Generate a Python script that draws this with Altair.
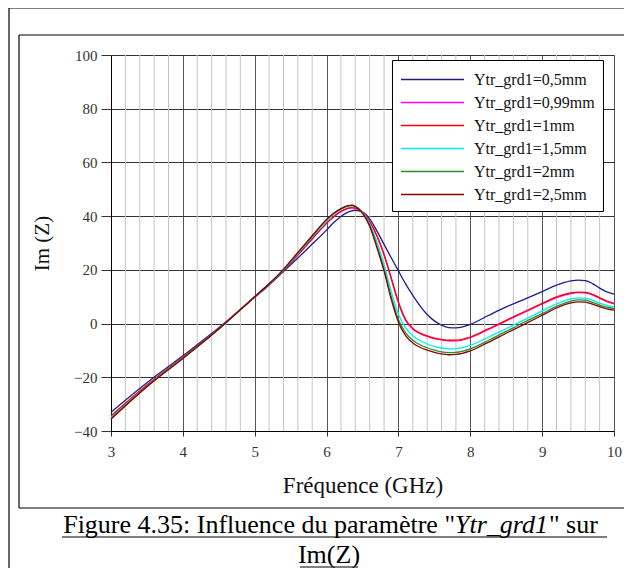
import altair as alt
import pandas as pd

freq = [3.0, 3.5, 4.0, 4.5, 5.0, 5.2, 5.4, 5.6, 5.8, 6.0, 6.1, 6.2, 6.3, 6.35, 6.4, 6.5,
        6.6, 6.7, 6.8, 6.9, 7.0, 7.1, 7.2, 7.3, 7.4, 7.5, 7.6, 7.7, 7.8, 8.0, 8.25, 8.5,
        8.75, 9.0, 9.2, 9.4, 9.5, 9.6, 9.7, 9.8, 9.9, 10.0]

y_05 = [-33.0, -22.0, -12.0, -1.6, 9.8, 14.4, 19.4, 24.4, 29.6, 34.8,
        37.6, 39.9, 41.5, 42.0, 42.2, 41.6, 39.0, 34.5, 29.5, 24.5,
        19.6, 14.8, 10.5, 6.6, 3.4, 1.0, -0.6, -1.5, -1.6,
        -0.3, 3.0, 6.2, 9.0, 11.9,
        14.3, 15.9, 16.2, 16.0, 14.9, 13.2, 11.8, 11.0]
y_099 = [-34.5, -23.0, -12.6, -1.9, 10.0, 14.7, 19.8, 25.5, 31.5, 37.3,
         39.8, 41.7, 42.9, 43.1, 43.0, 41.5, 38.0, 32.6, 25.5, 16.7,
         7.7, 1.2, -2.0, -3.7, -4.8, -5.6, -6.1, -6.4, -6.4,
         -5.2, -2.2, 1.0, 4.2, 7.3,
         9.7, 11.2, 11.5, 11.4, 10.7, 9.4, 8.2, 7.3]
y_1 = [-34.4, -22.9, -12.5, -1.9, 10.0, 14.7, 19.8, 25.6, 31.6, 37.4,
       39.9, 41.8, 43.0, 43.2, 43.0, 41.5, 38.0, 32.8, 25.8, 17.0,
       8.0, 1.5, -1.8, -3.5, -4.6, -5.4, -5.9, -6.2, -6.2,
       -5.0, -2.0, 1.2, 4.4, 7.5,
       9.9, 11.4, 11.7, 11.6, 10.9, 9.6, 8.4, 7.5]
y_15 = [-35.0, -23.3, -12.8, -2.0, 10.0, 14.8, 20.0, 26.1, 32.2, 38.2,
        40.7, 42.5, 43.6, 43.8, 43.5, 41.4, 37.2, 30.5, 22.0, 12.0,
        3.5, -1.6, -4.5, -6.3, -7.6, -8.5, -9.1, -9.4, -9.3,
        -8.1, -5.1, -1.9, 1.4, 4.7,
        7.3, 9.2, 9.6, 9.5, 8.7, 7.6, 6.8, 6.2]
y_2 = [-35.3, -23.4, -12.9, -2.0, 10.0, 14.8, 20.1, 26.3, 32.5, 38.6,
       41.0, 42.7, 43.8, 44.0, 43.7, 41.3, 36.7, 29.0, 20.3, 10.0,
       1.5, -3.5, -6.2, -7.9, -9.0, -9.9, -10.5, -10.8, -10.7,
       -9.4, -6.3, -2.9, 0.5, 3.7,
       6.4, 8.4, 8.8, 8.7, 7.9, 6.9, 6.1, 5.6]
y_25 = [-35.6, -23.5, -13.0, -2.0, 10.0, 14.8, 20.2, 26.5, 32.7, 38.8,
        41.1, 42.8, 43.9, 44.1, 43.6, 41.0, 36.2, 28.3, 19.5, 9.0,
        0.5, -4.5, -7.2, -8.8, -9.9, -10.7, -11.3, -11.6, -11.5,
        -10.2, -7.0, -3.6, -0.3, 3.1,
        5.8, 7.7, 8.1, 8.0, 7.2, 6.3, 5.5, 5.0]

series_names = ["Ytr_grd1=0,5mm", "Ytr_grd1=0,99mm", "Ytr_grd1=1mm",
                "Ytr_grd1=1,5mm", "Ytr_grd1=2mm", "Ytr_grd1=2,5mm"]
series_colors = ["#1c1c8e", "#ff00ff", "#ff0000", "#00f0f0", "#2a8a2a", "#8b0000"]
series_values = [y_05, y_099, y_1, y_15, y_2, y_25]

x_major = [3, 4, 5, 6, 7, 8, 9, 10]
x_minor = [round(3 + 0.2 * i, 1) for i in range(36) if i % 5 != 0]
y_ticks = [-40, -20, 0, 20, 40, 60, 80, 100]

rows = []
for name, vals in zip(series_names, series_values):
    for f, v in zip(freq, vals):
        rows.append({"freq": f, "val": v, "series": name})
df = pd.DataFrame(rows)

SERIF = "Liberation Serif"
W, H = 503, 376

xscale = alt.Scale(domain=[3, 10], nice=False, zero=False)
yscale = alt.Scale(domain=[-40, 100], nice=False, zero=False)

x_axis = alt.Axis(values=x_major, title="Fréquence (GHz)", grid=True, gridColor="#555555",
                  gridWidth=1, tickSize=5, tickColor="#333333", domainColor="#000000",
                  labelFont=SERIF, labelFontSize=15, labelColor="#333333", labelPadding=8,
                  titleFont=SERIF, titleFontSize=23, titleFontWeight="normal",
                  titleColor="#111111", titlePadding=15, labelFlush=False)
y_axis = alt.Axis(values=y_ticks, title="Im (Z)", grid=True, gridColor="#333333",
                  gridWidth=1, tickSize=10, tickColor="#333333", domainColor="#000000",
                  labelFont=SERIF, labelFontSize=15, labelColor="#333333", labelPadding=4,
                  titleFont=SERIF, titleFontSize=21, titleFontWeight="normal",
                  titleColor="#111111", titlePadding=21, labelFlush=False)

minor = alt.Chart(pd.DataFrame({"f": x_minor})).mark_rule(color="#c4c4c4", strokeWidth=1).encode(
    x=alt.X("f:Q", scale=xscale, axis=x_axis)
)

lines = alt.Chart(df).mark_line(strokeWidth=1.3, interpolate="monotone").encode(
    x=alt.X("freq:Q", scale=xscale, axis=x_axis),
    y=alt.Y("val:Q", scale=yscale, axis=y_axis),
    color=alt.Color("series:N", scale=alt.Scale(domain=series_names, range=series_colors),
                    legend=alt.Legend(title=None, orient="none", legendX=281, legendY=5,
                                      fillColor="white", strokeColor="black",
                                      padding=8, symbolType="M-1,0H5", symbolSize=441,
                                      symbolStrokeWidth=1.3, labelFont=SERIF, labelFontSize=16,
                                      labelColor="#111111", labelOffset=51, rowPadding=3,
                                      labelLimit=300)),
    detail="series:N",
)

frame_df = pd.DataFrame({"k": [0]})
def hrule(x1, x2, y):
    return alt.Chart(frame_df).mark_rule(color="black", strokeWidth=1.2).encode(
        x=alt.value(x1), x2=alt.value(x2), y=alt.value(y))
def vrule(x, y1, y2):
    return alt.Chart(frame_df).mark_rule(color="black", strokeWidth=1.2).encode(
        x=alt.value(x), y=alt.value(y1), y2=alt.value(y2))

frames = [
    hrule(-102, 520, -47), vrule(-102, -47, 520),
    hrule(-92, 520, -20), vrule(-92, -20, 453), hrule(-92, 520, 453),
]

CAP = 26
cap_left = alt.Chart(frame_df).mark_text(font=SERIF, fontSize=CAP, align="right", baseline="alphabetic",
                                         color="black").encode(
    x=alt.value(344), y=alt.value(478), text=alt.value('Figure 4.35: Influence du paramètre "'))
cap_it = alt.Chart(frame_df).mark_text(font=SERIF, fontSize=CAP, fontStyle="italic", align="left",
                                       baseline="alphabetic", color="black").encode(
    x=alt.value(344), y=alt.value(478), text=alt.value("Ytr_grd1"))
cap_right = alt.Chart(frame_df).mark_text(font=SERIF, fontSize=CAP, align="left", baseline="alphabetic",
                                          color="black").encode(
    x=alt.value(438), y=alt.value(478), text=alt.value('" sur'))
cap2 = alt.Chart(frame_df).mark_text(font=SERIF, fontSize=CAP, align="center", baseline="alphabetic",
                                     color="black").encode(
    x=alt.value(218), y=alt.value(508), text=alt.value("Im(Z)"))
ul1 = hrule(-49, 496, 482)
ul2 = hrule(189, 247, 512)

chart = alt.layer(minor, lines, *frames, cap_left, cap_it, cap_right, cap2, ul1, ul2).properties(
    width=W, height=H,
    padding={"left": 103, "top": 47, "right": 10, "bottom": 137},
    autosize=alt.AutoSizeParams(type="none"),
).configure_view(stroke="black", strokeWidth=1.2).configure(background="white")

chart.save("out.html", embed_options={"renderer": "svg", "actions": False})
